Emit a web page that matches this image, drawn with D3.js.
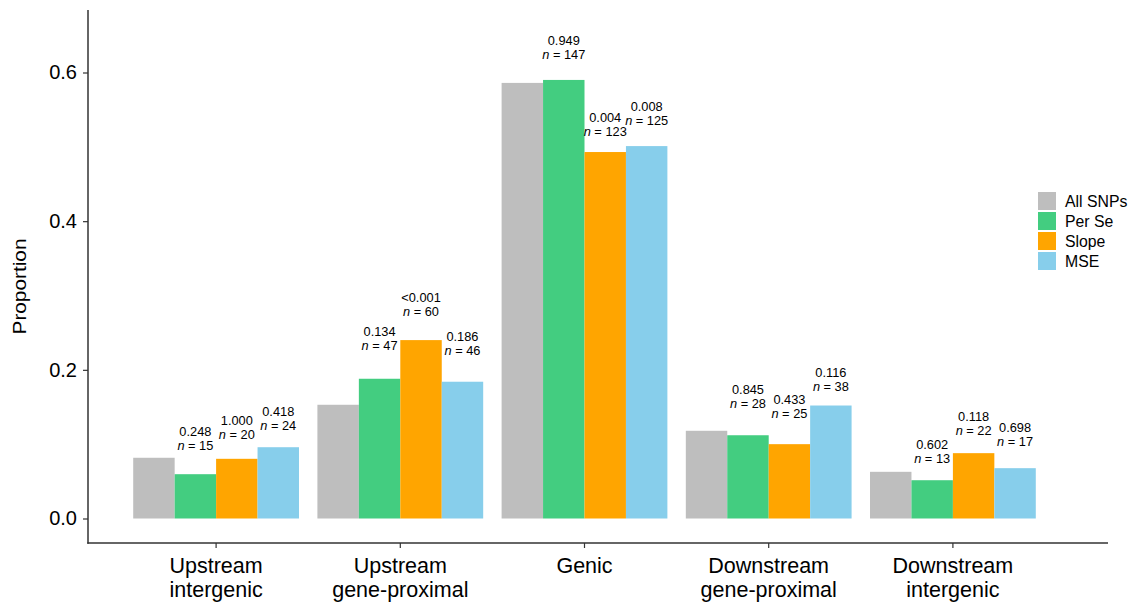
<!DOCTYPE html>
<html><head><meta charset="utf-8">
<script src="https://cdn.jsdelivr.net/npm/d3@7"></script>
<style>
body{margin:0;background:#fff;}
text{font-family:"Liberation Sans",Arial,Helvetica,sans-serif;fill:#000;}
</style></head>
<body><svg id="c" width="1131" height="603"></svg>
<script>
const categories = ["Upstream\nintergenic","Upstream\ngene-proximal","Genic","Downstream\ngene-proximal","Downstream\nintergenic"];
const seriesNames = ["All SNPs","Per Se","Slope","MSE"];
const allSNPs = [0.0817,0.153,0.586,0.118,0.0628];
const perSe   = [0.0596,0.188,0.590,0.112,0.0515];
const slope   = [0.0803,0.240,0.493,0.100,0.0879];
const mse     = [0.0959,0.184,0.501,0.152,0.0677];
const perSeP  = ["0.248","0.134","0.949","0.845","0.602"];
const perSeN  = [15,47,147,28,13];
const slopeP  = ["1.000","<0.001","0.004","0.433","0.118"];
const slopeN  = [20,60,123,25,22];
const mseP    = ["0.418","0.186","0.008","0.116","0.698"];
const mseN    = [24,46,125,38,17];
// label anchor heights (data units)
const perSeLabelY = [0.0922,0.2267,0.6175,0.1487,0.0753];
const slopeLabelY = [0.1063,0.2724,0.5146,0.1352,0.1123];
const mseLabelY   = [0.1197,0.2200,0.5294,0.1715,0.0982];
const yTicks = [0.0,0.2,0.4,0.6];
const colors = ["#BEBEBE","#43CD80","#FFA500","#87CEEB"];

const values = [allSNPs, perSe, slope, mse];
const pvals = [null, perSeP, slopeP, mseP];
const ns = [null, perSeN, slopeN, mseN];
const labYs = [null, perSeLabelY, slopeLabelY, mseLabelY];

const svg = d3.select("#c");
const x = d3.scaleBand().domain(categories).range([124,1045]).paddingInner(0.1).paddingOuter(0.05);
const xs = d3.scaleBand().domain(seriesNames).range([0, x.bandwidth()]);
const y = d3.scaleLinear().domain([0,0.6]).range([518.5,72.5]);
const axisX = 88, axisY = 543, panelTop = 10, panelRight = 1108;

// bars
const g = svg.append("g");
seriesNames.forEach((s,si)=>{
  g.selectAll(null).data(categories).enter().append("rect")
    .attr("x", c=>x(c)+xs(s))
    .attr("width", xs.bandwidth())
    .attr("y", (c,i)=>y(values[si][i]))
    .attr("height", (c,i)=>y(0)-y(values[si][i]))
    .attr("fill", colors[si]);
});

// labels
for (let si=1; si<4; si++){
  categories.forEach((c,i)=>{
    const cx = x(c)+xs(seriesNames[si])+xs.bandwidth()/2;
    const by = y(labYs[si][i]);
    svg.append("text").attr("x",cx).attr("y",by-14).attr("text-anchor","middle")
      .style("font-size","12.8px").text(pvals[si][i]);
    const t = svg.append("text").attr("x",cx).attr("y",by).attr("text-anchor","middle")
      .style("font-size","12.8px");
    t.append("tspan").style("font-style","italic").text("n");
    t.append("tspan").text(" = " + ns[si][i]);
  });
}

// y axis
const ya = svg.append("g").attr("transform",`translate(${axisX},0)`)
  .call(d3.axisLeft(y).tickValues(yTicks).tickFormat(d3.format(".1f")).tickSize(5).tickPadding(6));
ya.select(".domain").remove();
ya.selectAll(".tick line").attr("stroke","#333").attr("stroke-width",1.2);
ya.selectAll(".tick text").style("font-size","20px").style("font-family","Liberation Sans, Arial, sans-serif").attr("fill","#000");
svg.append("line").attr("x1",axisX).attr("x2",axisX).attr("y1",panelTop).attr("y2",axisY+0.7)
  .attr("stroke","#333").attr("stroke-width",1.5);

// x axis
svg.append("line").attr("x1",axisX-0.7).attr("x2",panelRight).attr("y1",axisY).attr("y2",axisY)
  .attr("stroke","#333").attr("stroke-width",1.5);
categories.forEach(c=>{
  const cx = x(c)+x.bandwidth()/2;
  svg.append("line").attr("x1",cx).attr("x2",cx).attr("y1",axisY).attr("y2",axisY+5)
    .attr("stroke","#333").attr("stroke-width",1.2);
  const lines = c.split("\n");
  lines.forEach((l,li)=>{
    svg.append("text").attr("x",cx).attr("y",573+li*23.5).attr("text-anchor","middle")
      .style("font-size","21.5px").text(l);
  });
});

// y title
svg.append("text").attr("transform",`translate(26,${(panelTop+axisY)/2+10}) rotate(-90)`)
  .attr("text-anchor","middle").style("font-size","18px")
  .attr("textLength",96).attr("lengthAdjust","spacingAndGlyphs").text("Proportion");

// legend
const lg = svg.append("g").attr("transform","translate(1038,192)");
seriesNames.forEach((s,i)=>{
  lg.append("rect").attr("x",0).attr("y",i*20).attr("width",18).attr("height",18).attr("fill",colors[i]);
  lg.append("text").attr("x",27).attr("y",i*20+14.5).style("font-size","15.8px").text(s);
});
</script></body></html>
